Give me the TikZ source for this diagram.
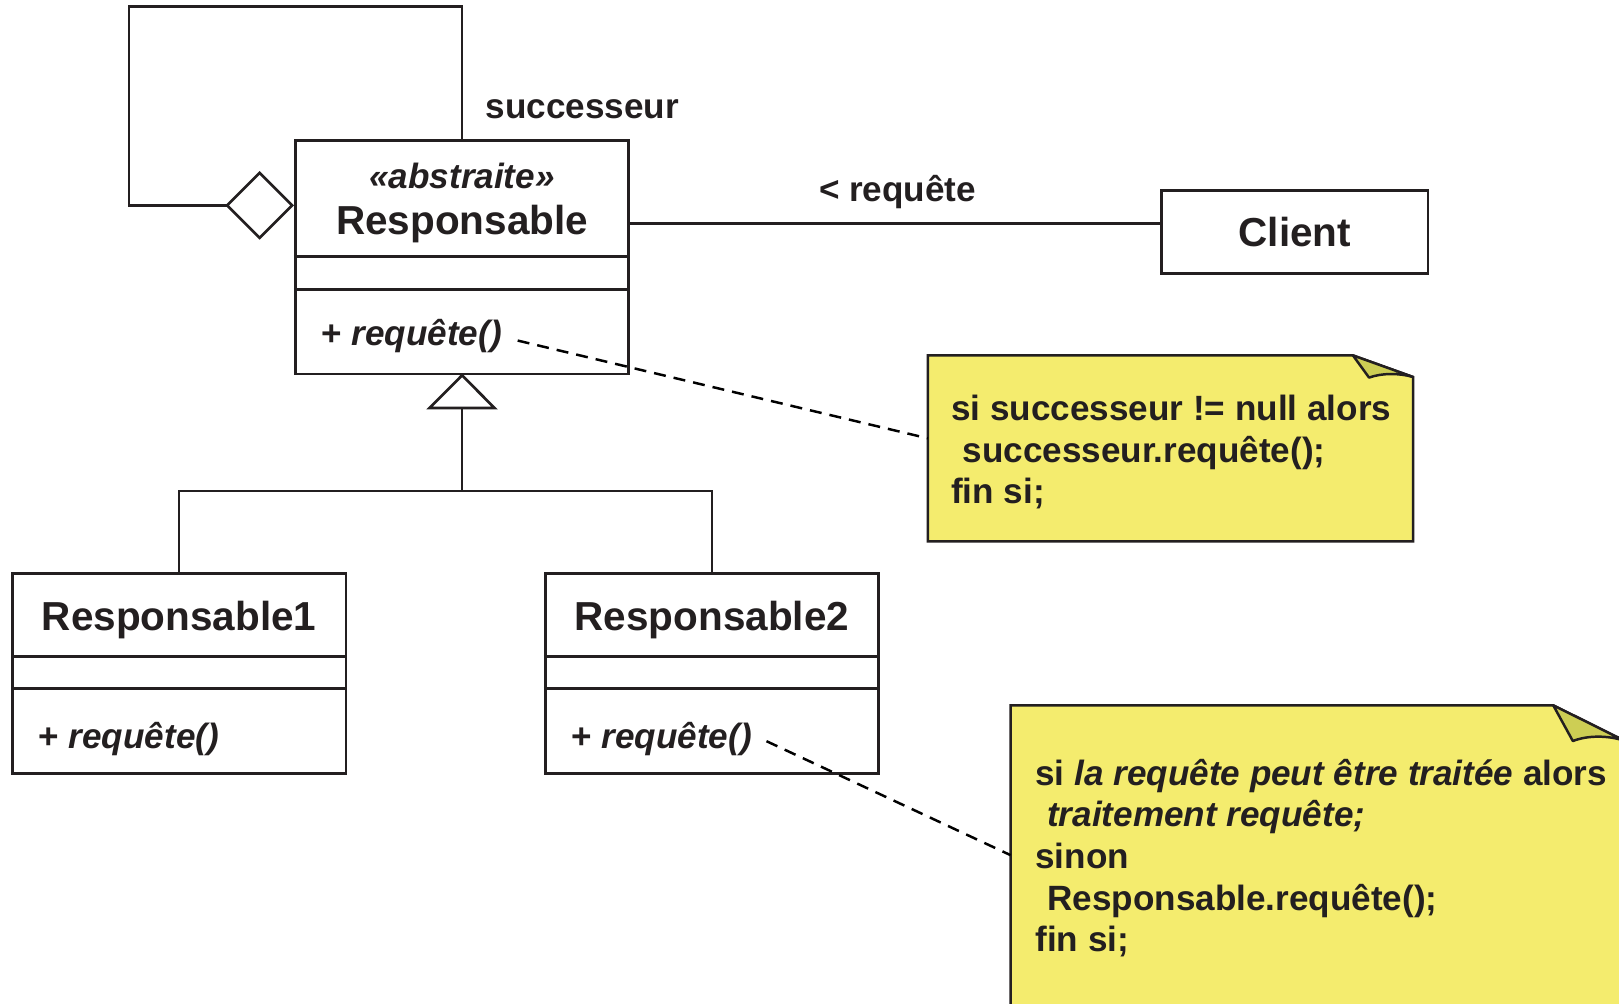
\documentclass[tikz,border=0pt]{standalone}
\usepackage{fontspec}
\setmainfont{Liberation Sans}
\usetikzlibrary{shapes.geometric,calc}

\definecolor{ink}{HTML}{231F20}
\definecolor{notefill}{RGB}{244,236,110}
\definecolor{foldfill}{RGB}{205,206,84}

\newcommand\umlsmall{\fontsize{17pt}{20pt}\selectfont\bfseries}
\newcommand\umlbig{\fontsize{19.6pt}{23pt}\selectfont\bfseries}

\begin{document}
\begin{tikzpicture}[x=0.5pt,y=-0.5pt,color=ink,line width=1.3pt,line join=miter,
  classbox/.style={draw,fill=white,inner sep=0pt,minimum width=161.5pt},
  titletext/.style={inner sep=0pt,anchor=base,font=\umlbig},
  lbl/.style={inner sep=0pt,anchor=base west,font=\umlsmall},
  stereo/.style={inner sep=0pt,anchor=base,font=\umlsmall\itshape},
  notebody/.style={draw,fill=notefill,line width=1.2pt},
  notefold/.style={draw,fill=foldfill,line width=1.2pt,line join=round},
  noteline/.style={draw=black,dash pattern=on 5.8pt off 3.9pt,line width=1.2pt}]

\useasboundingbox (0,0) rectangle (1568,972);
\clip (0,0) rectangle (1568,972);

% ---------- abstract handler ----------
\node[classbox,minimum height=113pt] (resp) at (447.5,249.2) {};
\draw ($(resp.north west)+(0,113.3)$) -- ($(resp.north east)+(0,113.3)$);
\draw ($(resp.north west)+(0,145.3)$) -- ($(resp.north east)+(0,145.3)$);
\node[stereo] (respst) at (447.5,182.4) {«abstraite»};
\node[titletext] (respname) at (447.5,227.6) {Responsable};
\node[lbl] (m0) at (310,335) {+ \textit{requête()}};

% ---------- successor self-aggregation ----------
\coordinate (loopc) at (125,6.5);
\draw (resp.north) |- (loopc) |- ($(resp.north west)+(-60,64)$);
\node[diamond,draw,fill=white,inner sep=0pt,minimum width=32pt,minimum height=32pt,
      anchor=east] (agg) at ($(resp.north west)+(0,64)$) {};
\node[lbl] (succ) at (469,114.6) {successeur};

% ---------- client ----------
\node[classbox,minimum width=129.1pt,minimum height=40pt,font=\umlbig] (client)
      at (1254,224.7) {Client};
\coordinate (assocy) at (0,216.3);
\draw (resp.east |- assocy) -- (client.west |- assocy);
\node[lbl] (assoc) at (792,195.3) {< requête};

% ---------- concrete handlers ----------
\node[classbox,minimum height=96.85pt] (r1) at (173.5,652.15) {};
\draw ($(r1.north west)+(0,81.7)$) -- ($(r1.north east)+(0,81.7)$);
\draw ($(r1.north west)+(0,113)$) -- ($(r1.north east)+(0,113)$);
\node[titletext] (r1name) at (173.5,610.2) {Responsable1};
\node[lbl] (m1) at (36,725) {+ \textit{requête()}};

\node[classbox,minimum height=96.85pt] (r2) at (689.5,652.15) {};
\draw ($(r2.north west)+(0,81.7)$) -- ($(r2.north east)+(0,81.7)$);
\draw ($(r2.north west)+(0,113)$) -- ($(r2.north east)+(0,113)$);
\node[titletext] (r2name) at (689.5,610.2) {Responsable2};
\node[lbl] (m2) at (552,725) {+ \textit{requête()}};

% ---------- generalization ----------
\coordinate (tri) at ($(resp.south)+(0,31.7)$);
\coordinate (join) at ($(resp.south)+(0,112)$);
\draw (tri) -- (join);
\draw (r1.north) |- (join) -| (r2.north);
\draw[fill=white] (resp.south) -- ++(-31.5,31.7) -- ++(63,0) -- cycle;

% ---------- note on Responsable.requete ----------
\node[inner sep=0pt,minimum width=233.6pt,minimum height=88.75pt] (note1) at (1133.6,434.25) {};
\draw[notebody] (note1.north west) -- ($(note1.north east)+(-58.2,0)$)
   -- ($(note1.north east)+(0,20.9)$) -- (note1.south east) -- (note1.south west) -- cycle;
\draw[notefold] ($(note1.north east)+(-58.2,0)$) -- ($(note1.north east)+(-42.6,21.5)$)
   .. controls ($(note1.north east)+(-30,17)$) and ($(note1.north east)+(-14,17)$)
   .. ($(note1.north east)+(0,20.9)$) -- cycle;
\node[lbl] (n1a) at (920,407.7) {si successeur != null alors};
\node[lbl] (n1b) at (931,448) {successeur.requête();};
\node[lbl] (n1c) at (920,488) {fin si;};
\draw[noteline] ($(m0.east)+(14,4)$) -- ($(note1.west)+(0,-9.7)$);

% ---------- note on Responsable2.requete ----------
\node[inner sep=0pt,minimum width=296pt,minimum height=157.8pt] (note2) at (1276,842.2) {};
\draw[notebody] (note2.north west) -- ($(note2.north east)+(-69,0)$)
   -- ($(note2.north east)+(0,34.3)$) -- (note2.south east) -- (note2.south west) -- cycle;
\draw[notefold] ($(note2.north east)+(-69,0)$) -- ($(note2.north east)+(-50,34.6)$)
   .. controls ($(note2.north east)+(-36,29)$) and ($(note2.north east)+(-16,29)$)
   .. ($(note2.north east)+(0,34.3)$) -- cycle;
\node[lbl] (n2a) at (1001.5,760.3) {si \textit{la requête peut être traitée} alors};
\node[lbl] (n2b) at (1013,800.7) {\textit{traitement requête;}};
\node[lbl] (n2c) at (1001.5,841.1) {sinon};
\node[lbl] (n2d) at (1013,881.5) {Responsable.requête();};
\node[lbl] (n2e) at (1001.5,921.9) {fin si;};
\draw[noteline] ($(m2.east)+(13,2)$) -- ($(note2.west)+(0,-14)$);

\end{tikzpicture}
\end{document}
